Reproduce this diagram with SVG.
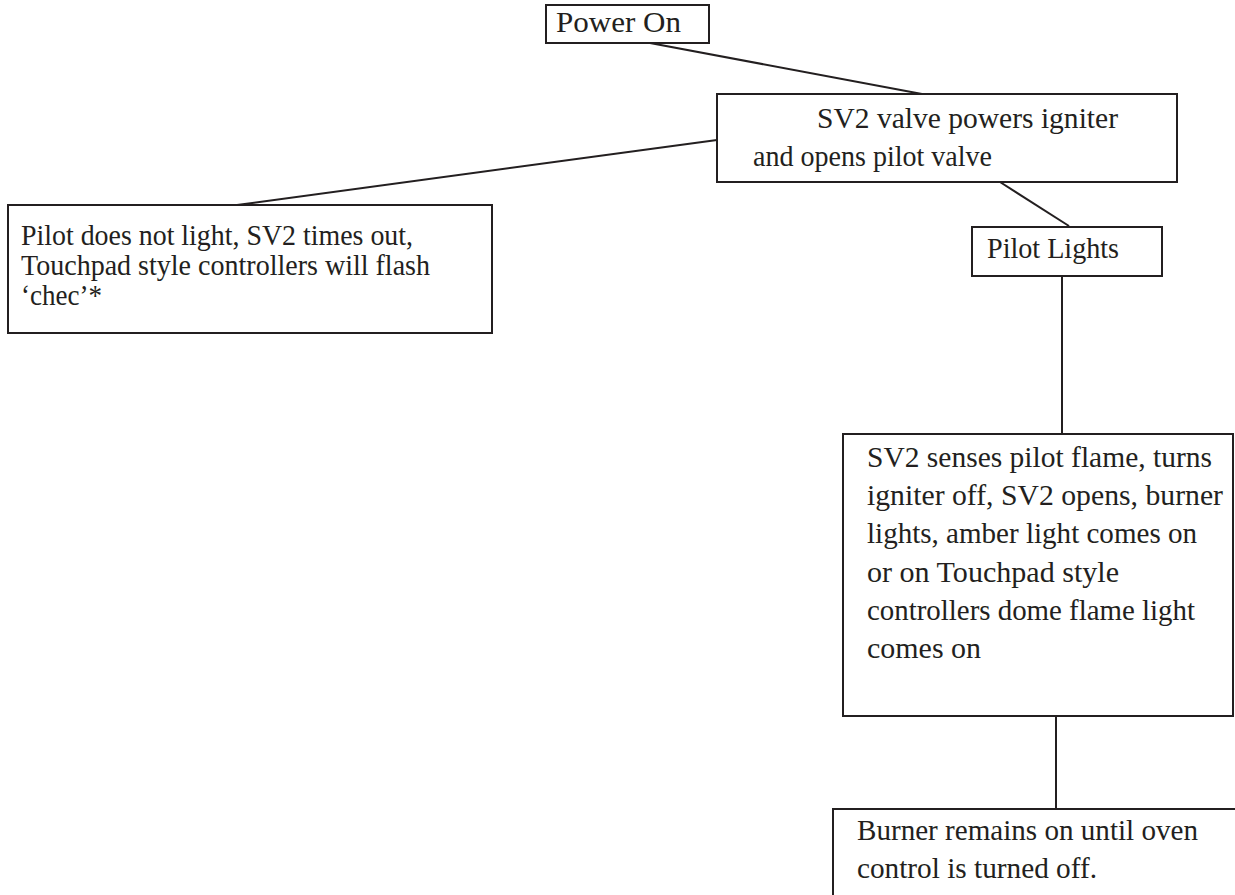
<svg xmlns="http://www.w3.org/2000/svg" width="1235" height="895" viewBox="0 0 1235 895">
<style>
.box{fill:#fff;stroke:#231f20;stroke-width:2}
.t{font-family:"Liberation Serif","Times New Roman",serif;font-size:30px;fill:#231f20}
.s{font-size:29px}
.c{stroke:#231f20;stroke-width:2;fill:none}
</style>
<rect width="1235" height="895" fill="#fff"/>
<g id="connectors">
<line class="c" x1="650" y1="43" x2="922" y2="94"/>
<line class="c" x1="717" y1="140" x2="237" y2="205"/>
<line class="c" x1="1000" y1="182" x2="1069" y2="226"/>
<line class="c" x1="1062" y1="276" x2="1062" y2="434"/>
<line class="c" x1="1056" y1="716" x2="1056" y2="809"/>
</g>
<g id="power-on">
<rect class="box" x="546" y="5" width="163" height="38"/>
<text class="t" x="556" y="32" textLength="125" lengthAdjust="spacingAndGlyphs">Power On</text>
</g>
<g id="sv2-valve">
<rect class="box" x="717" y="94" width="460" height="88"/>
<text class="t" x="817" y="128" textLength="301" lengthAdjust="spacingAndGlyphs">SV2 valve powers igniter</text>
<text class="t" x="753" y="166" textLength="239" lengthAdjust="spacingAndGlyphs">and opens pilot valve</text>
</g>
<g id="pilot-fails">
<rect class="box" x="8" y="205" width="484" height="128"/>
<text class="t s" x="21" y="245" textLength="392" lengthAdjust="spacingAndGlyphs">Pilot does not light, SV2 times out,</text>
<text class="t s" x="21" y="275" textLength="409" lengthAdjust="spacingAndGlyphs">Touchpad style controllers will flash</text>
<text class="t s" x="21" y="305" textLength="81" lengthAdjust="spacingAndGlyphs">‘chec’*</text>
</g>
<g id="pilot-lights">
<rect class="box" x="972" y="227" width="190" height="49"/>
<text class="t" x="987" y="258" textLength="132" lengthAdjust="spacingAndGlyphs">Pilot Lights</text>
</g>
<g id="sv2-senses">
<rect class="box" x="843" y="434" width="390" height="282"/>
<text class="t" x="867" y="467" textLength="345" lengthAdjust="spacingAndGlyphs">SV2 senses pilot flame, turns</text>
<text class="t" x="867" y="505" textLength="356" lengthAdjust="spacingAndGlyphs">igniter off, SV2 opens, burner</text>
<text class="t" x="867" y="543" textLength="330" lengthAdjust="spacingAndGlyphs">lights, amber light comes on</text>
<text class="t" x="867" y="582" textLength="252" lengthAdjust="spacingAndGlyphs">or on Touchpad style</text>
<text class="t" x="867" y="620" textLength="328" lengthAdjust="spacingAndGlyphs">controllers dome flame light</text>
<text class="t" x="867" y="658" textLength="114" lengthAdjust="spacingAndGlyphs">comes on</text>
</g>
<g id="burner-remains">
<rect class="box" x="833" y="809" width="420" height="120"/>
<text class="t" x="857" y="840" textLength="341" lengthAdjust="spacingAndGlyphs">Burner remains on until oven</text>
<text class="t" x="857" y="878" textLength="240" lengthAdjust="spacingAndGlyphs">control is turned off.</text>
</g>
</svg>
